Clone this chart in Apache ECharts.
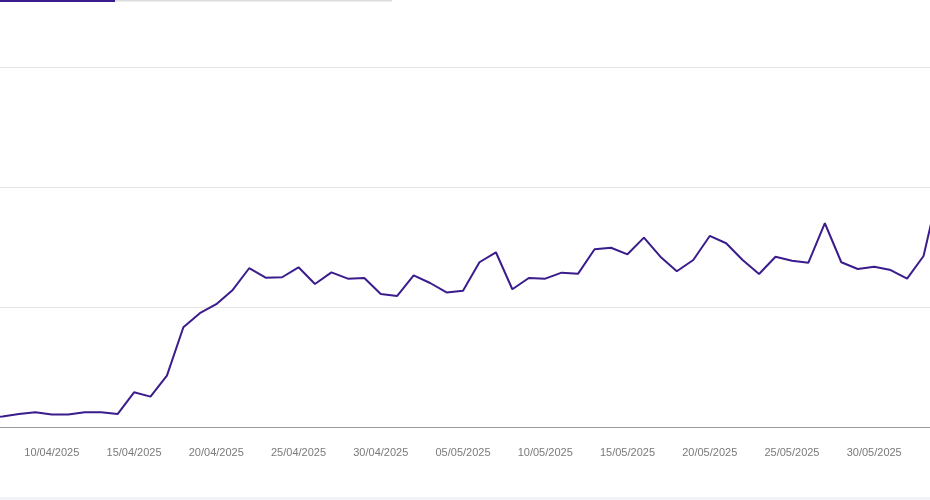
<!DOCTYPE html>
<html>
<head>
<meta charset="utf-8">
<script src="https://cdn.jsdelivr.net/npm/echarts@6/dist/echarts.min.js"></script>
<style>
html,body{margin:0;padding:0;background:#fff;overflow:hidden;width:930px;height:500px;position:relative;}
#c{position:absolute;left:-14px;top:0;width:954px;height:500px;}
</style>
</head>
<body>
<div id="c"></div>
<script>
const dates = [
  "06/04/2025","07/04/2025","08/04/2025","09/04/2025","10/04/2025","11/04/2025","12/04/2025","13/04/2025","14/04/2025","15/04/2025",
  "16/04/2025","17/04/2025","18/04/2025","19/04/2025","20/04/2025","21/04/2025","22/04/2025","23/04/2025","24/04/2025","25/04/2025",
  "26/04/2025","27/04/2025","28/04/2025","29/04/2025","30/04/2025","01/05/2025","02/05/2025","03/05/2025","04/05/2025","05/05/2025",
  "06/05/2025","07/05/2025","08/05/2025","09/05/2025","10/05/2025","11/05/2025","12/05/2025","13/05/2025","14/05/2025","15/05/2025",
  "16/05/2025","17/05/2025","18/05/2025","19/05/2025","20/05/2025","21/05/2025","22/05/2025","23/05/2025","24/05/2025","25/05/2025",
  "26/05/2025","27/05/2025","28/05/2025","29/05/2025","30/05/2025","31/05/2025","01/06/2025","02/06/2025","03/06/2025"
];
const values = [
  8.3, 8.8, 10.8, 12.3, 10.4, 10.4, 12.3, 12.3, 10.8, 28.9,
  25.3, 42.8, 83.1, 94.8, 102.3, 114.2, 132.3, 124.4, 124.8, 133.1,
  119.2, 128.9, 123.6, 124.2, 110.8, 109.2, 126.4, 120.0, 112.1, 113.6,
  137.3, 145.6, 114.8, 124.2, 123.6, 128.6, 127.8, 148.1, 149.4, 143.9,
  157.8, 141.9, 129.8, 139.2, 159.2, 153.1, 139.2, 127.5, 141.9, 138.6,
  136.9, 169.8, 137.3, 131.7, 133.6, 130.8, 123.6, 142.5, 201.7
];
const yTicks = [0, 100, 200, 300];

const chart = echarts.init(document.getElementById('c'), null, {renderer: 'canvas'});
chart.setOption({
  animation: false,
  backgroundColor: '#ffffff',
  grid: {left: 0, right: 0, top: 67, bottom: 73, containLabel: false},
  xAxis: {
    type: 'category',
    data: dates,
    boundaryGap: false,
    axisLine: {show: true, lineStyle: {color: '#9a9a9a', width: 1}},
    axisTick: {show: false},
    splitLine: {show: false},
    axisLabel: {
      interval: function (i) { return i >= 4 && (i - 4) % 5 === 0; },
      color: '#7a7a7a',
      fontFamily: 'Liberation Sans',
      fontSize: 11,
      margin: 20
    }
  },
  yAxis: {
    type: 'value',
    min: yTicks[0],
    max: yTicks[yTicks.length - 1],
    interval: 100,
    axisLine: {show: false},
    axisTick: {show: false},
    axisLabel: {show: false},
    splitLine: {show: true, lineStyle: {color: '#e4e4e4', width: 1}}
  },
  series: [{
    type: 'line',
    data: values,
    symbol: 'none',
    smooth: false,
    clip: false,
    lineStyle: {color: '#3a1c8c', width: 2}
  }],
  graphic: [
    {type: 'rect', shape: {x: 14, y: 0, width: 115, height: 2}, style: {fill: '#3a1c8c'}},
    {type: 'rect', shape: {x: 129, y: 0, width: 277, height: 1.5}, style: {fill: '#dcdcdc'}},
    {type: 'rect', shape: {x: 0, y: 497, width: 954, height: 3}, style: {fill: '#f1f3f9'}}
  ]
});
</script>
</body>
</html>
